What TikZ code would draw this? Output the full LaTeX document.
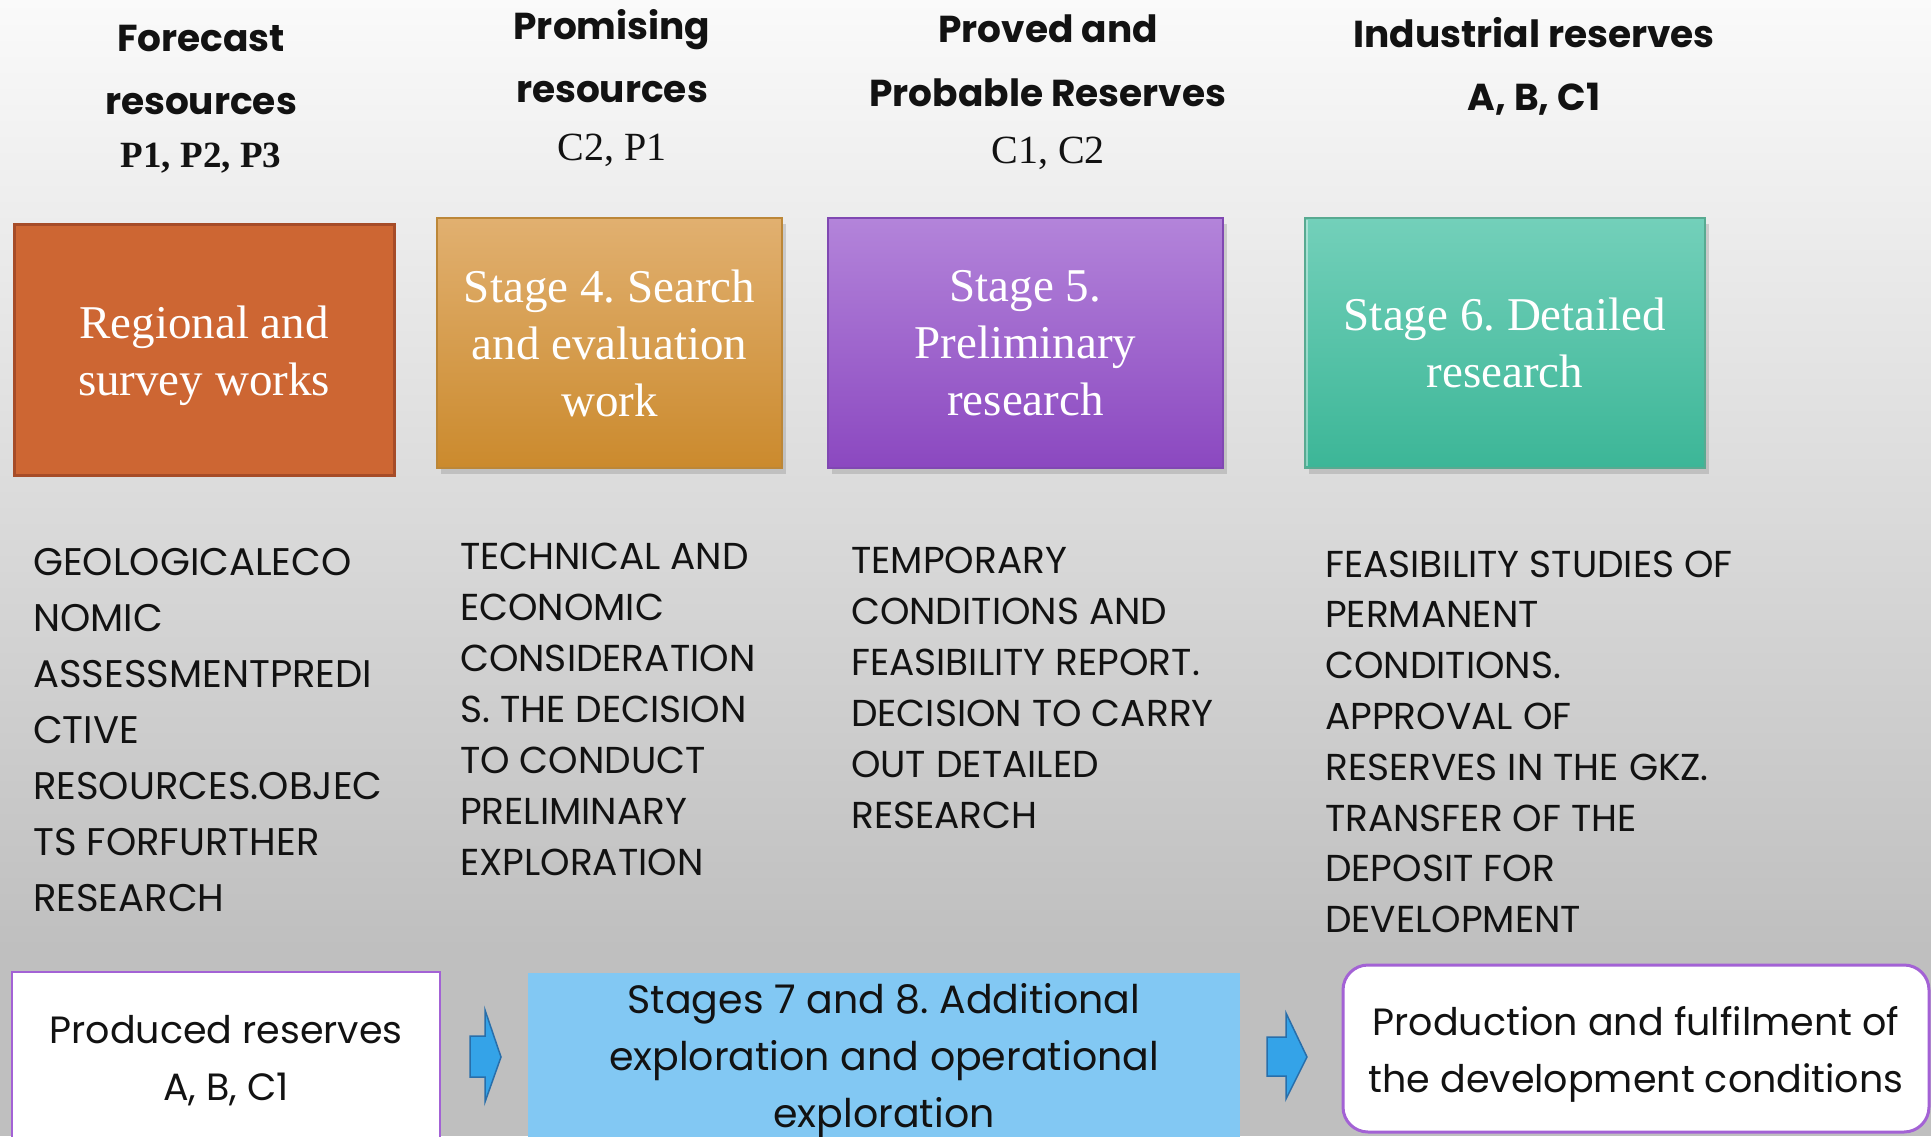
\documentclass[tikz,border=0pt]{standalone}
\usepackage{fontspec}
\setmainfont{Liberation Serif}
\newfontfamily\popfont{Poppins}
\usetikzlibrary{shadows}

\definecolor{bgtop}{RGB}{250,250,250}
\definecolor{bgbot}{RGB}{191,191,191}
\definecolor{txtdark}{RGB}{18,18,18}
\definecolor{orgfill}{RGB}{205,102,51}
\definecolor{orgline}{RGB}{166,76,40}
\definecolor{tantop}{RGB}{225,176,112}
\definecolor{tanbot}{RGB}{203,138,45}
\definecolor{tanline}{RGB}{188,135,56}
\definecolor{purtop}{RGB}{179,132,218}
\definecolor{purbot}{RGB}{139,72,192}
\definecolor{purline}{RGB}{128,72,178}
\definecolor{tealtop}{RGB}{115,208,186}
\definecolor{tealbot}{RGB}{60,182,151}
\definecolor{tealline}{RGB}{88,170,145}
\definecolor{lowblue}{RGB}{130,200,243}
\definecolor{arrfill}{RGB}{52,163,232}
\definecolor{arrline}{RGB}{40,110,170}
\definecolor{lowline}{RGB}{163,98,213}

\begin{document}
\frenchspacing
\begin{tikzpicture}[x=1pt,y=1pt,
  hd/.style={anchor=base,inner sep=0pt,text=txtdark,font=\popfont\bfseries\fontsize{37.5}{44}\selectfont},
  hdser/.style={anchor=base,inner sep=0pt,text=txtdark,font=\fontsize{40}{48}\selectfont},
  stagebox/.style={line width=2pt,minimum height=250pt,text=white,align=center,inner sep=0pt,font=\fontsize{47}{57}\selectfont},
  shbox/.style={drop shadow={shadow xshift=4pt,shadow yshift=-6pt,opacity=.3}},
  bodytxt/.style={anchor=base west,inner sep=0pt,text=txtdark,font=\popfont\fontsize{37.5}{40}\selectfont},
  lowbox/.style={align=center,inner sep=0pt,text=txtdark,font=\popfont\fontsize{38}{57}\selectfont},
  blockarrow/.style={fill=arrfill,draw=arrline,line width=1.5pt,line join=miter}]
  \useasboundingbox (0,0) rectangle (1931,-1136);
  \clip (0,0) rectangle (1931,-1136);
  % background
  \shade[top color=bgtop,bottom color=bgbot] (0,0) rectangle (1931,-950);
  \fill[bgbot] (0,-950) rectangle (1931,-1136);

  % headers
  \node[hd] (fc1) at (201,-51) {Forecast};
  \node[hd] (fc2) at (201,-114) {resources};
  \node[hdser,font=\bfseries\fontsize{37}{44}\selectfont] (fc3) at (201,-167) {P1, P2, P3};
  \node[hd] (pr1) at (612,-39) {Promising};
  \node[hd] (pr2) at (612,-102) {resources};
  \node[hdser] (pr3) at (612,-160) {C2, P1};
  \node[hd] (pp1) at (1048,-42) {Proved and};
  \node[hd] (pp2) at (1048,-106) {Probable Reserves};
  \node[hdser] (pp3) at (1048,-163) {C1, C2};
  \node[hd] (in1) at (1534,-47) {Industrial reserves};
  \node[hd] (in2) at (1534,-110) {A, B, C1};

  % stage boxes
  \node[stagebox,draw=orgline,fill=orgfill,line width=3pt,minimum width=380pt,minimum height=251pt] (reg) at (204,-349.5) {};
  \node[stagebox] (regtxt) at ([yshift=-6pt]reg.center) {Regional and\\survey works};
  \node[stagebox,shbox,top color=tantop,bottom color=tanbot,draw=tanline,minimum width=345pt] (st4) at (609.5,-343) {Stage 4. Search\\and evaluation\\work};
  \node[stagebox,shbox,top color=purtop,bottom color=purbot,draw=purline,minimum width=395pt] (st5) at (1025.5,-343) {Stage 5.\\Preliminary\\research};
  \node[stagebox,shbox,top color=tealtop,bottom color=tealbot,draw=tealline,minimum width=400pt] (st6) at (1505,-343) {Stage 6. Detailed\\research};
  \draw[white,opacity=.4,line width=2pt] ([xshift=3pt,yshift=-3pt]st6.north west) -- ([xshift=3pt,yshift=3pt]st6.south west);

  % stage texts
  \foreach \t [count=\i from 0] in {GEOLOGICALECO,NOMIC,ASSESSMENTPREDI,CTIVE,RESOURCES.OBJEC,TS FORFURTHER,RESEARCH}
    \node[bodytxt,font=\popfont\fontsize{38.5}{40}\selectfont] (geo\i) at (33,-575-56*\i) {\t};
  \foreach \t [count=\i from 0] in {TECHNICAL AND,ECONOMIC,CONSIDERATION,S. THE DECISION,TO CONDUCT,PRELIMINARY,EXPLORATION}
    \node[bodytxt] (tec\i) at (460,-569-51*\i) {\t};
  \foreach \t [count=\i from 0] in {TEMPORARY,CONDITIONS AND,FEASIBILITY REPORT.,DECISION TO CARRY,OUT DETAILED,RESEARCH}
    \node[bodytxt] (tmp\i) at (851,-573-51*\i) {\t};
  \foreach \t [count=\i from 0] in {FEASIBILITY STUDIES OF,PERMANENT,CONDITIONS.,APPROVAL OF,RESERVES IN THE GKZ.,TRANSFER OF THE,DEPOSIT FOR,DEVELOPMENT}
    \node[bodytxt] (fea\i) at (1325,-577-50.8*\i) {\t};

  % bottom row
  \node[lowbox,fill=white,draw=lowline,line width=2.5pt,minimum width=428pt,minimum height=178pt] (prod) at (226,-1061) {Produced reserves\\A, B, C1};
  \node[lowbox,fill=lowblue,minimum width=712pt,minimum height=176pt,font=\popfont\fontsize{39.5}{57}\selectfont] (st78) at (884,-1061) {Stages 7 and 8. Additional\\exploration and operational\\exploration};
  \node[lowbox,fill=white,draw=lowline,line width=3pt,rounded corners=25pt,minimum width=586pt,minimum height=167pt] (dev) at (1636,-1048.5) {};
  \node[lowbox] (devtxt) at ([yshift=-6pt]dev.center) {Production and fulfilment of\\the development conditions};
  \draw[blockarrow] (470,-1036) -- (485,-1036) -- (485,-1010) -- (501,-1057) -- (485,-1102) -- (485,-1077) -- (470,-1077) -- cycle;
  \draw[blockarrow] (1267,-1037) -- (1286,-1037) -- (1286,-1013) -- (1307,-1057) -- (1286,-1099) -- (1286,-1076) -- (1267,-1076) -- cycle;
\end{tikzpicture}
\end{document}
